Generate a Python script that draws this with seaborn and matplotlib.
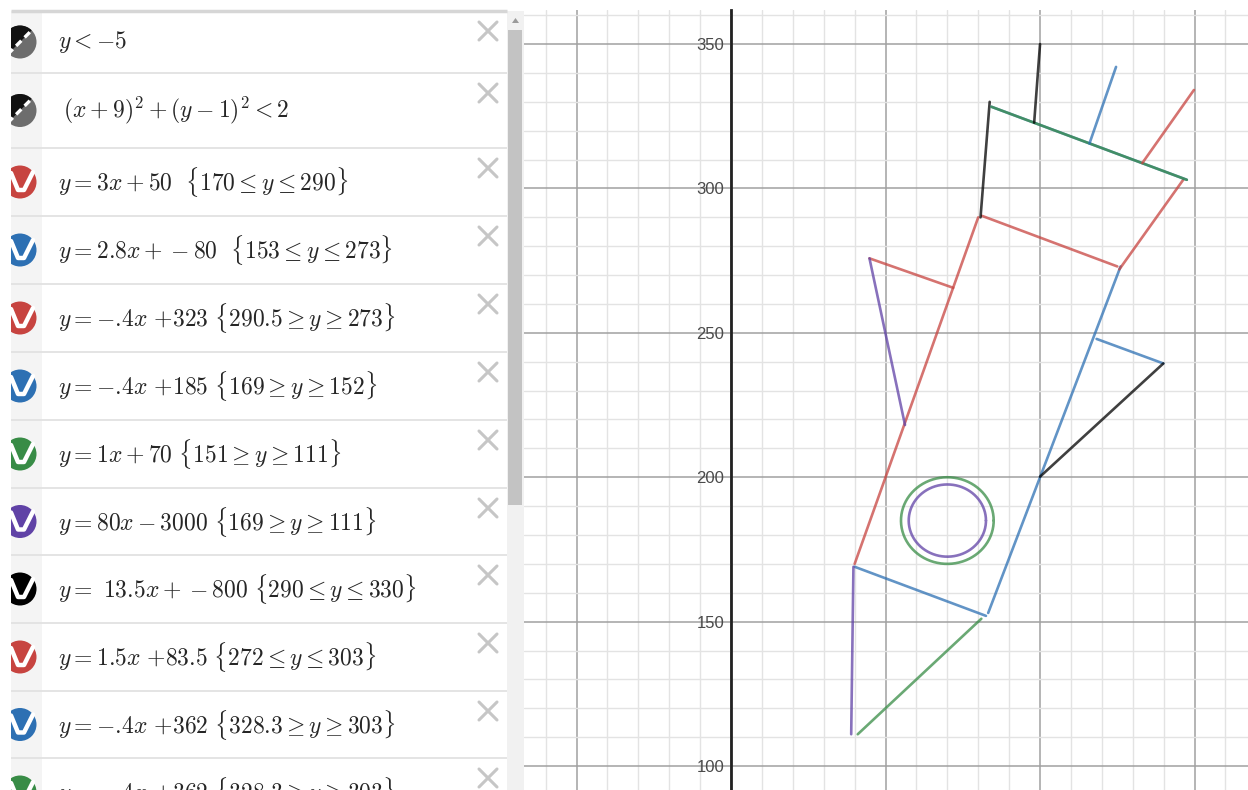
import numpy as np
import pandas as pd
import matplotlib
matplotlib.use("Agg")
import matplotlib.pyplot as plt
from matplotlib.patches import Circle, Wedge, Rectangle, Polygon
from matplotlib.ticker import MultipleLocator
import seaborn as sns

COLORS = {"red": "#c74440", "blue": "#2d70b3", "green": "#388c46",
          "purple": "#6042a6", "black": "#000000"}

# expression list as typed in the left panel
expr_labels = [
    r"$y<-5$",
    r"$(x+9)^2+(y-1)^2<2$",
    r"$y=3x+50\ \ \{170\leq y\leq 290\}$",
    r"$y=2.8x+-80\ \ \{153\leq y\leq 273\}$",
    r"$y=-.\!4x\ {+}323\ \{290.5\geq y\geq 273\}$",
    r"$y=-.\!4x\ {+}185\ \{169\geq y\geq 152\}$",
    r"$y=1x+70\ \{151\geq y\geq 111\}$",
    r"$y=80x-3000\ \{169\geq y\geq 111\}$",
    r"$y=\ 13.5x+-800\ \{290\leq y\leq 330\}$",
    r"$y=1.5x\ {+}83.5\ \{272\leq y\leq 303\}$",
    r"$y=-.\!4x\ {+}362\ \{328.3\geq y\geq 303\}$",
    r"$y=-.\!4x\ {+}362\ \{328.3\geq y\geq 303\}$",
]
expr_icons = ["ineq", "ineq", "red", "blue", "red", "blue", "green",
              "purple", "black", "red", "blue", "green"]

# line expressions y = m*x + b, restricted to a y range
line_m = [3, 2.8, -0.4, -0.4, 1, 80, 13.5, 1.5, -0.4, -0.4]
line_b = [50, -80, 323, 185, 70, -3000, -800, 83.5, 362, 362]
line_ylo = [170, 153, 273, 152, 111, 111, 290, 272, 303, 303]
line_yhi = [290, 273, 290.5, 169, 151, 169, 330, 303, 328.3, 328.3]
line_color = ["red", "blue", "red", "blue", "green", "purple", "black",
              "red", "blue", "green"]

# expressions further down the list (not visible)
seg_x0 = [98.1, 116.0, 133.1, 44.8, 44.8, 118.3, 139.9]
seg_y0 = [322.8, 315.6, 308.8, 275.8, 275.8, 247.9, 239.4]
seg_x1 = [100.0, 124.6, 149.8, 71.9, 56.3, 139.9, 100.0]
seg_y1 = [350.0, 342.1, 334.1, 265.6, 218.1, 239.4, 200.2]
seg_color = ["black", "blue", "red", "red", "purple", "blue", "black"]

# the two rings
ring_cx, ring_cy = 70, 185
ring_r = [15, 12.5]
ring_color = ["green", "purple"]

y_ticks = [100, 150, 200, 250, 300, 350]

# ---- build long table of all curves
rows = []
for i, (m, b, lo, hi, c) in enumerate(zip(line_m, line_b, line_ylo, line_yhi, line_color)):
    for yv in (lo, hi):
        rows.append({"id": f"eq{i}", "x": (yv - b) / m, "y": yv, "color": c})
for j, (x0, y0, x1, y1, c) in enumerate(zip(seg_x0, seg_y0, seg_x1, seg_y1, seg_color)):
    rows.append({"id": f"seg{j}", "x": x0, "y": y0, "color": c})
    rows.append({"id": f"seg{j}", "x": x1, "y": y1, "color": c})
theta = np.linspace(0, 2 * np.pi, 240)
for k, (r, c) in enumerate(zip(ring_r, ring_color)):
    for t in theta:
        rows.append({"id": f"ring{k}", "x": ring_cx + r * np.cos(t),
                     "y": ring_cy + r * np.sin(t), "color": c})
df = pd.DataFrame(rows)
pal = {k: COLORS[v] for k, v in df.groupby("id", sort=False)["color"].first().items()}

sns.set_theme(style="white")
plt.rcParams["mathtext.fontset"] = "cm"

fig = plt.figure(figsize=(12.48, 7.9), dpi=100)
W, H = 1248, 790

# ---- graph paper
ax = fig.add_axes([524 / W, 0, (W - 524) / W, 780 / H])
sns.lineplot(data=df, x="x", y="y", hue="id", palette=pal, estimator=None,
             sort=False, legend=False, lw=1.9, alpha=0.75, ax=ax)
ax.set_xlim(-67.0, 167.3)
ax.set_ylim(91.7, 361.8)
ax.xaxis.set_major_locator(MultipleLocator(50))
ax.xaxis.set_minor_locator(MultipleLocator(10))
ax.set_yticks(y_ticks)
ax.yaxis.set_minor_locator(MultipleLocator(10))
ax.set_axisbelow(True)
ax.grid(which="major", color="#a0a0a0", lw=1.1)
ax.grid(which="minor", color="#e3e3e3", lw=1)
for s in ("top", "right", "bottom"):
    ax.spines[s].set_visible(False)
ax.spines["left"].set_position(("data", 0))
ax.spines["left"].set_color("#222222")
ax.spines["left"].set_linewidth(2)
ax.tick_params(axis="x", which="both", length=0, labelbottom=False)
ax.tick_params(axis="y", which="both", length=0, pad=5, labelsize=12, labelcolor="#4a4a4a")
for lab in ax.get_yticklabels():
    lab.set_family("Liberation Sans")
ax.set_xlabel("")
ax.set_ylabel("")

# ---- expression list panel (pixel coordinates)
pan = fig.add_axes([11 / W, 0, (524 - 11) / W, 1])
pan.set_xlim(11, 524)
pan.set_ylim(H, 0)
pan.axis("off")

row_tops = [11, 73, 148, 216, 284, 352, 420, 488, 555, 623, 691, 758, 826]
pan.add_patch(Rectangle((11, 11), 31, H, color="#f4f4f4", lw=0, zorder=0))
pan.hlines(row_tops[1:], 11, 507, color="#e2e2e2", lw=1.3, zorder=1)
pan.hlines(11, 11, 507, color="#d6d6d6", lw=2.5, zorder=1)

for i, (lab, icon) in enumerate(zip(expr_labels, expr_icons)):
    top, bot = row_tops[i], row_tops[i + 1]
    cy = (top + bot) / 2
    cx, r = 20, 16.5
    if icon == "ineq":
        pan.add_patch(Circle((cx, cy), r, color="#6d6d6d", lw=0, zorder=3))
        pan.add_patch(Wedge((cx, cy), r, 135, 315, color="#111111", lw=0, zorder=3))
        d = r * 0.75
        pan.plot([cx - d, cx + d], [cy + d, cy - d], color="white", lw=2.4,
                 ls=(0, (2.2, 1.4)), zorder=4, solid_capstyle="butt")
    else:
        pan.add_patch(Circle((cx, cy), r, color=COLORS[icon], lw=0, zorder=3))
        pan.plot([cx - 9, cx - 2, cx + 4, cx + 13], [cy - 9, cy + 8, cy + 8, cy - 10],
                 color="white", lw=3.2, zorder=4, solid_joinstyle="round")
    x0 = 63 if i == 1 else 58
    pan.text(x0, cy, lab, fontsize=17, color="#262626", va="center", ha="left", zorder=5)
    xc, yc, h = 488, top + 20, 9
    pan.plot([xc - h, xc + h], [yc - h, yc + h], color="#c6c6c6", lw=2.2, zorder=5)
    pan.plot([xc - h, xc + h], [yc + h, yc - h], color="#c6c6c6", lw=2.2, zorder=5)

# scrollbar
pan.add_patch(Rectangle((507, 11), 17, H, color="#f1f1f1", lw=0, zorder=0))
pan.add_patch(Rectangle((508, 30), 14, 475, color="#c3c3c3", lw=0, zorder=2))
pan.add_patch(Polygon([[512, 23], [519, 23], [515.5, 18]], color="#9a9a9a", lw=0, zorder=2))

fig.savefig("out.png", dpi=100)
